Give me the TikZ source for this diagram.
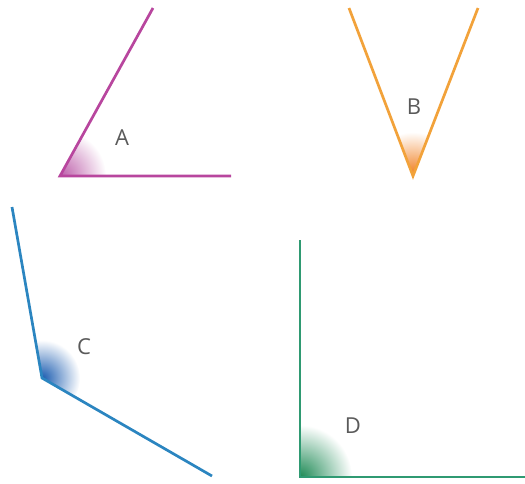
\documentclass[tikz,border=0pt]{standalone}
\usepackage{fontspec}
\setmainfont{Open Sans}
\definecolor{cA}{HTML}{B8469E}
\definecolor{cB}{HTML}{F2A23A}
\definecolor{cC}{HTML}{2B85C0}
\definecolor{cD}{HTML}{2F9A72}
\definecolor{sA}{HTML}{B0409A}
\definecolor{sB}{HTML}{F07A18}
\definecolor{sC}{HTML}{1B5CB0}
\definecolor{sD}{HTML}{1E8A55}
\definecolor{lab}{HTML}{5A5A5A}
\tikzset{
  arm/.style={line width=2.7pt, line join=miter, line cap=butt},
  lbl/.style={text=lab, font=\fontsize{22}{22}\selectfont, inner sep=0pt},
}
\begin{document}
\begin{tikzpicture}[x=1pt,y=-1pt]
\useasboundingbox (0,0) rectangle (525,483);
% coordinates
\coordinate (av) at (60,176); \coordinate (a1) at (153,8); \coordinate (a2) at (231,176);
\coordinate (bv) at (413,176); \coordinate (b1) at (349,8); \coordinate (b2) at (478,8);
\coordinate (cv) at (42,378); \coordinate (c1) at (12,207); \coordinate (c2) at (212,476);
\coordinate (dv) at (300,477); \coordinate (d1) at (300,240); \coordinate (d2) at (525,477);
% shadings
\begin{scope}
  \clip (av) -- (a1) -- (a2) -- cycle;
  \shade[inner color=sA!85, outer color=white] (av) circle (46);
\end{scope}
\begin{scope}
  \clip (bv) -- (b1) -- (b2) -- cycle;
  \shade[inner color=sB, outer color=white] (bv) circle (44);
\end{scope}
\begin{scope}
  \clip (cv) -- (c1) -- (c2) -- cycle;
  \shade[inner color=sC, outer color=white] (cv) circle (38);
\end{scope}
\begin{scope}
  \clip (dv) -- (d1) -- (d2) -- cycle;
  \shade[inner color=sD, outer color=white] (dv) circle (52);
\end{scope}
% arms
\draw[arm, cA] (a1) -- (av) -- (a2);
\draw[arm, cB] (b1) -- (bv) -- (b2);
\draw[arm, cC] (c1) -- (cv) -- (c2);
\draw[arm, cD] (d1) -- (dv) -- (d2);
% labels
\node[lbl] (labelA) at (122,138) {A};
\node[lbl] (labelB) at (414,107) {B};
\node[lbl] (labelC) at (84,347) {C};
\node[lbl] (labelD) at (353,426) {D};
\end{tikzpicture}
\end{document}
